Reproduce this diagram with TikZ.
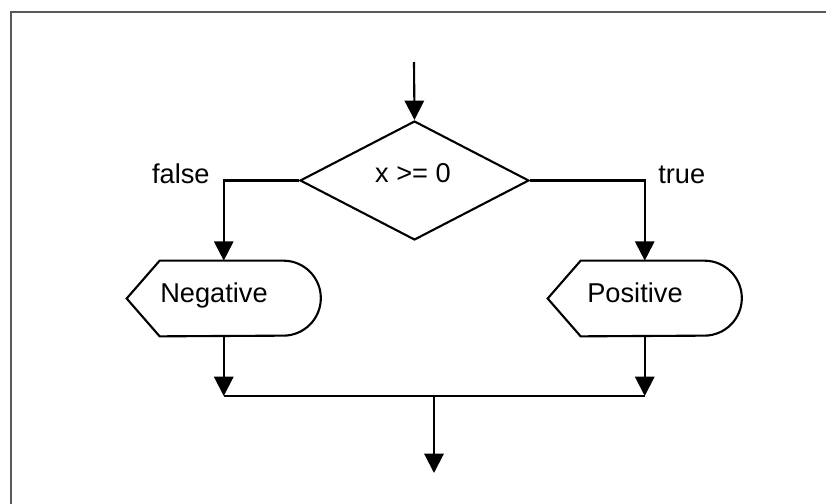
\documentclass[tikz,border=0pt]{standalone}
\usepackage{fontspec}
\setmainfont{Liberation Sans}
\usetikzlibrary{shapes.geometric, arrows.meta}

\tikzset{
  flow/.style = {line width=1.2pt, -{Triangle[width=11pt, length=11pt]}},
  plain/.style = {line width=1.2pt},
  txt/.style = {font=\fontsize{15.5}{18}\selectfont, inner sep=0pt, anchor=base},
  decision/.style = {diamond, draw, line width=1.2pt, minimum width=4.58cm,
    minimum height=2.38cm, inner sep=0pt},
  displaybox/.style = {minimum width=3.87cm, minimum height=1.5cm, inner sep=0pt}
}

\begin{document}
\begin{tikzpicture}[x=0.02cm, y=-0.02cm]

    \useasboundingbox (0,0) rectangle (826,504);

    % frame
    \draw[black!65, line width=1.2pt] (826,12) -- (11,12) -- (11,504);

    \coordinate (ST) at (414,62);
    \coordinate (JN) at (434,396);
    \coordinate (EN) at (434,473);

    \node[decision] (test) at (414.5,180.5) {};
    \node[displaybox] (neg) at (223.75,298.5) {};
    \node[displaybox] (pos) at (644.75,298.5) {};

    % display shapes
    \foreach \disp in {neg, pos} {
      \draw[plain] (\disp.west) -- ([xshift=0.66cm]\disp.north west)
        -- ([xshift=-0.75cm]\disp.north east)
        arc[start angle=90, end angle=-90, radius=0.75cm]
        -- ([xshift=0.66cm]\disp.south west) -- cycle;
    }

    \node[txt] (testtxt) at (413,182) {x >= 0};
    \node[txt] (negtxt) at (214,302) {Negative};
    \node[txt] (postxt) at (635,302) {Positive};
    \node[txt, anchor=base east] (falsetxt) at (210,183) {false};
    \node[txt, anchor=base west] (truetxt) at (658,183) {true};

    \draw[flow] (ST) -- (test.north);
    \draw[flow] (test.west) -| (neg.north);
    \draw[flow] (test.east) -| (pos.north);

    \draw[flow] (neg.south) -- (neg.south |- JN);
    \draw[flow] (pos.south) -- (pos.south |- JN);
    \draw[plain] (neg.south |- JN) -- (pos.south |- JN);
    \draw[flow] (JN) -- (EN);

\end{tikzpicture}
\end{document}
